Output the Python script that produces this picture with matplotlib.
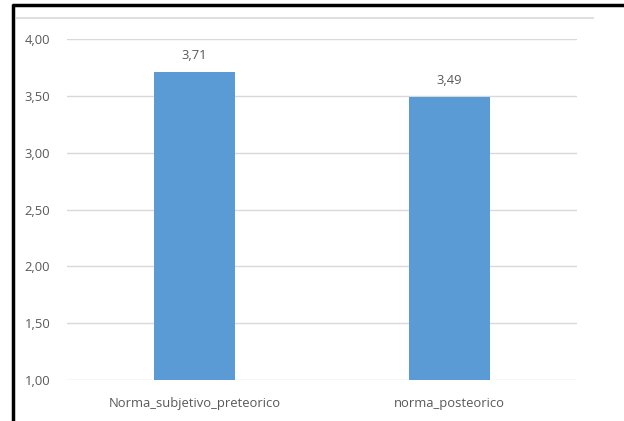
import matplotlib
matplotlib.use("Agg")
import matplotlib.pyplot as plt
from matplotlib.lines import Line2D
from matplotlib import font_manager

categories = ["Norma_subjetivo_preteorico", "norma_posteorico"]
values = [3.71, 3.49]
yticks = [1.0, 1.5, 2.0, 2.5, 3.0, 3.5, 4.0]

names = {f.name for f in font_manager.fontManager.ttflist}
fam = "Liberation Sans Narrow" if "Liberation Sans Narrow" in names else "Open Sans"
plt.rcParams["font.family"] = [fam, "DejaVu Sans"]

txt = "#595959"
fs = 9.4
fig = plt.figure(figsize=(6.24, 4.21), dpi=100)
ax = fig.add_axes([67/624, 1-380/421, 510/624, (380-39)/421])

x = list(range(len(categories)))
bars = ax.bar(x, values, width=0.315, color="#5B9BD5", zorder=3)
ax.set_xlim(-0.5, 1.5)
ax.set_ylim(1, 4)
ax.set_yticks(yticks)
ax.set_yticklabels([f"{v:.2f}".replace(".", ",") for v in yticks], fontsize=fs, color=txt)
ax.set_xticks(x)
ax.set_xticklabels(categories, fontsize=fs, color=txt)
ax.tick_params(length=0, pad=12)
ax.tick_params(axis="x", pad=12)
ax.grid(axis="y", color="#D9D9D9", linewidth=1, zorder=0)
for s in ax.spines.values():
    s.set_visible(False)
for xi, v in zip(x, values):
    ax.annotate(f"{v:.2f}".replace(".", ","), (xi, v), xytext=(0, 7),
                textcoords="offset points", ha="center", va="bottom",
                fontsize=fs, color=txt)

W, H = 624, 421
def fl(x0, y0, x1, y1, **kw):
    fig.add_artist(Line2D([x0/W, x1/W], [1-y0/H, 1-y1/H], transform=fig.transFigure,
                          solid_capstyle="butt", **kw))

# outer black frame (top and left)
fl(12, 5, 624, 5, color="black", linewidth=2.5)
fl(13, 4, 13, 421, color="black", linewidth=2.5)
# inner grey chart-area frame
fl(16, 18, 594, 18, color="#D9D9D9", linewidth=1.2)

fig.savefig("out.png", dpi=100)
